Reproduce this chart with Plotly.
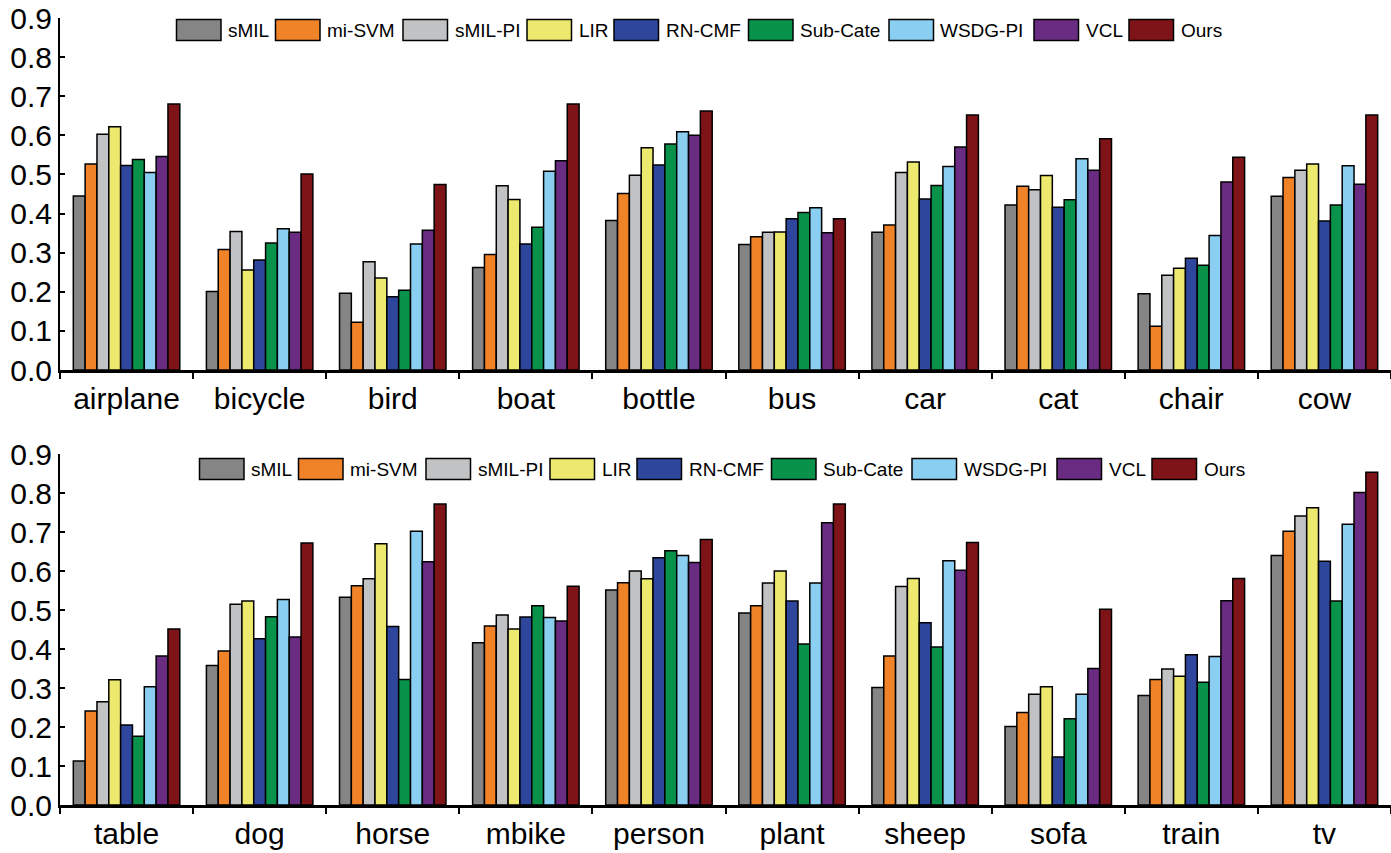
import plotly.graph_objects as go

# ---------------- data ----------------
methods = ["sMIL", "mi-SVM", "sMIL-PI", "LIR", "RN-CMF", "Sub-Cate", "WSDG-PI", "VCL", "Ours"]

cats_top = ["airplane", "bicycle", "bird", "boat", "bottle", "bus", "car", "cat", "chair", "cow"]
cats_bottom = ["table", "dog", "horse", "mbike", "person", "plant", "sheep", "sofa", "train", "tv"]

# values per method (one entry per category)
top_sMIL    = [0.445, 0.201, 0.196, 0.262, 0.382, 0.321, 0.352, 0.422, 0.195, 0.444]
top_miSVM   = [0.527, 0.308, 0.122, 0.295, 0.451, 0.341, 0.371, 0.470, 0.112, 0.492]
top_sMILPI  = [0.603, 0.354, 0.277, 0.471, 0.498, 0.352, 0.505, 0.461, 0.242, 0.511]
top_LIR     = [0.622, 0.256, 0.235, 0.436, 0.568, 0.353, 0.532, 0.497, 0.260, 0.527]
top_RNCMF   = [0.523, 0.281, 0.187, 0.322, 0.524, 0.387, 0.437, 0.416, 0.286, 0.381]
top_SubCate = [0.538, 0.325, 0.204, 0.365, 0.578, 0.403, 0.472, 0.435, 0.268, 0.422]
top_WSDGPI  = [0.505, 0.361, 0.322, 0.508, 0.609, 0.415, 0.520, 0.540, 0.344, 0.522]
top_VCL     = [0.546, 0.352, 0.357, 0.535, 0.600, 0.351, 0.570, 0.511, 0.481, 0.475]
top_Ours    = [0.680, 0.501, 0.474, 0.680, 0.662, 0.387, 0.652, 0.591, 0.544, 0.652]

bot_sMIL    = [0.113, 0.358, 0.533, 0.416, 0.551, 0.492, 0.301, 0.201, 0.281, 0.640]
bot_miSVM   = [0.241, 0.395, 0.562, 0.459, 0.570, 0.511, 0.382, 0.237, 0.322, 0.702]
bot_sMILPI  = [0.265, 0.515, 0.580, 0.487, 0.600, 0.569, 0.560, 0.284, 0.349, 0.741]
bot_LIR     = [0.321, 0.523, 0.670, 0.451, 0.580, 0.600, 0.581, 0.303, 0.330, 0.762]
bot_RNCMF   = [0.205, 0.426, 0.458, 0.482, 0.634, 0.523, 0.467, 0.123, 0.385, 0.625]
bot_SubCate = [0.176, 0.483, 0.322, 0.511, 0.652, 0.413, 0.405, 0.221, 0.315, 0.523]
bot_WSDGPI  = [0.303, 0.527, 0.702, 0.481, 0.640, 0.569, 0.626, 0.284, 0.381, 0.720]
bot_VCL     = [0.382, 0.431, 0.624, 0.472, 0.622, 0.724, 0.602, 0.350, 0.524, 0.801]
bot_Ours    = [0.451, 0.672, 0.772, 0.561, 0.681, 0.772, 0.673, 0.502, 0.581, 0.853]

top_values = [top_sMIL, top_miSVM, top_sMILPI, top_LIR, top_RNCMF, top_SubCate, top_WSDGPI, top_VCL, top_Ours]
bot_values = [bot_sMIL, bot_miSVM, bot_sMILPI, bot_LIR, bot_RNCMF, bot_SubCate, bot_WSDGPI, bot_VCL, bot_Ours]

y_ticks = [0.0, 0.1, 0.2, 0.3, 0.4, 0.5, 0.6, 0.7, 0.8, 0.9]

# ---------------- style ----------------
colors = ["#858585", "#F08228", "#C1C2C3", "#EDE86E", "#2E479C",
          "#08924A", "#8ACFF2", "#6A2B82", "#7F1418"]
FONT = "Liberation Sans, Arial, sans-serif"
W, H = 1391, 853

fig = go.Figure()
for vals, xa, ya in [(top_values, "x", "y"), (bot_values, "x2", "y2")]:
    cats = cats_top if xa == "x" else cats_bottom
    for m, v, c in zip(methods, vals, colors):
        fig.add_trace(go.Bar(
            x=cats, y=v, name=m, xaxis=xa, yaxis=ya, showlegend=False,
            marker=dict(color=c, line=dict(color="black", width=1.5)),
        ))

x_dom = [60 / W, 1.0]
top_dom = [1 - 370 / H, 1 - 18 / H]
bot_dom = [1 - 805 / H, 1 - 454 / H]

xaxis_style = dict(
    domain=x_dom, showline=True, linecolor="black", linewidth=3,
    ticks="outside", tickson="boundaries", ticklen=6, tickwidth=2, tickcolor="black",
    tickfont=dict(family=FONT, size=30, color="black"),
    showgrid=False, zeroline=False, automargin=False,
)
yaxis_style = dict(
    range=[0, 0.9], tickvals=y_ticks, tickformat=".1f",
    showline=True, linecolor="black", linewidth=2,
    ticks="inside", ticklen=5, tickwidth=2, tickcolor="black",
    tickfont=dict(family=FONT, size=30, color="black"),
    showgrid=False, zeroline=False, automargin=False,
)

fig.update_layout(
    width=W, height=H,
    margin=dict(l=0, r=0, t=0, b=0),
    paper_bgcolor="white", plot_bgcolor="white",
    barmode="group", bargap=0.2, bargroupgap=0.0,
    xaxis=dict(**xaxis_style, anchor="y"),
    yaxis=dict(**yaxis_style, domain=top_dom, anchor="x"),
    xaxis2=dict(**xaxis_style, anchor="y2"),
    yaxis2=dict(**yaxis_style, domain=bot_dom, anchor="x2"),
)

# ---------------- manual legends (large swatches) ----------------
legend_swatch_left = [176.5, 275.5, 403, 527, 614, 748.5, 889, 1034, 1129]
legend_rows = [(30, 0), (469, 23)]   # (center y px, x shift px)
sw_w, sw_h = 44.5, 21
for cy, dx in legend_rows:
    for m, c, lx in zip(methods, colors, legend_swatch_left):
        x0 = lx + dx
        fig.add_shape(type="rect", xref="paper", yref="paper",
                      x0=x0 / W, x1=(x0 + sw_w) / W,
                      y0=1 - (cy + sw_h / 2) / H, y1=1 - (cy - sw_h / 2) / H,
                      fillcolor=c, line=dict(color="black", width=1.5))
        fig.add_annotation(xref="paper", yref="paper",
                           x=(x0 + sw_w + 5) / W, y=1 - cy / H,
                           xanchor="left", yanchor="middle", showarrow=False,
                           text=m, font=dict(family=FONT, size=19, color="black"))

fig.write_html(
    "out.html",
    config={"displayModeBar": False},
    post_script="document.body.style.margin='0';document.body.style.padding='0';"
                "document.body.style.overflow='hidden';",
)
